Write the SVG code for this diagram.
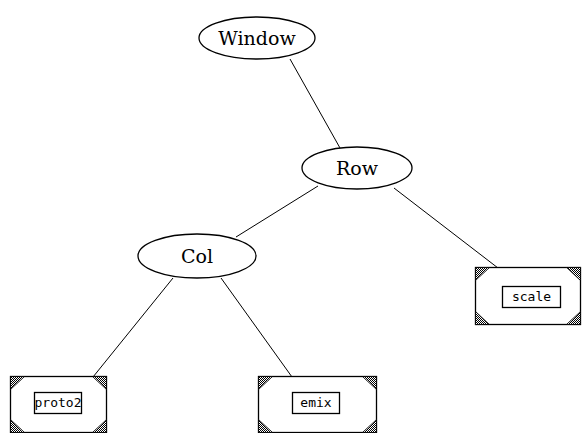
<svg xmlns="http://www.w3.org/2000/svg" width="582" height="433" viewBox="0 0 582 433">
<defs>
<pattern id="dither" width="2" height="2" patternUnits="userSpaceOnUse">
<rect width="2" height="2" fill="#fff"/>
<rect width="1" height="1" fill="#000"/>
<rect x="1" y="1" width="1" height="1" fill="#000"/>
</pattern>
<style>
.ell{fill:#fff;stroke:#000;stroke-width:1.3}
.et{font-family:"DejaVu Serif","Liberation Serif",serif;font-size:19px;text-anchor:middle;fill:#000}
.box{fill:#fff;stroke:#000;stroke-width:1.3}
.cor{fill:url(#dither);stroke:#000;stroke-width:0.8}
.lab{fill:#fff;stroke:#000;stroke-width:1.3}
.bt{font-family:"DejaVu Sans Mono","Liberation Mono",monospace;font-size:13px;text-anchor:middle;fill:#000}
.edge{stroke:#000;stroke-width:1;fill:none}
</style>
</defs>
<rect width="582" height="433" fill="#fff"/>
<g id="connectors">
<line class="edge" x1="290" y1="59" x2="340" y2="148"/>
<line class="edge" x1="318" y1="186" x2="236" y2="237"/>
<line class="edge" x1="394" y1="188" x2="498" y2="268"/>
<line class="edge" x1="173" y1="278" x2="93" y2="377"/>
<line class="edge" x1="221" y1="278" x2="292" y2="377"/>
</g>
<g id="Window">
<ellipse class="ell" cx="257" cy="38" rx="58" ry="21"/>
<text class="et" x="257" y="45">Window</text>
</g>
<g id="Row">
<ellipse class="ell" cx="357" cy="168" rx="55" ry="21"/>
<text class="et" x="357" y="175">Row</text>
</g>
<g id="Col">
<ellipse class="ell" cx="197" cy="256" rx="59" ry="22"/>
<text class="et" x="197" y="263">Col</text>
</g>
<g id="scale">
<rect class="box" x="475.5" y="267.5" width="105" height="57"/>
<path class="cor" d="M475.5 267.5h14l-14 13z"/>
<path class="cor" d="M475.5 324.5h14l-14 -13z"/>
<path class="cor" d="M580.5 267.5h-14l14 13z"/>
<path class="cor" d="M580.5 324.5h-14l14 -13z"/>
<rect class="lab" x="502.5" y="286.5" width="58" height="21"/>
<text class="bt" x="531.5" y="301">scale</text>
</g>
<g id="proto2">
<rect class="box" x="10.5" y="376.5" width="96" height="56"/>
<path class="cor" d="M10.5 376.5h14l-14 13z"/>
<path class="cor" d="M10.5 432.5h14l-14 -13z"/>
<path class="cor" d="M106.5 376.5h-14l14 13z"/>
<path class="cor" d="M106.5 432.5h-14l14 -13z"/>
<rect class="lab" x="34.5" y="392.5" width="47" height="21"/>
<text class="bt" x="58" y="407">proto2</text>
</g>
<g id="emix">
<rect class="box" x="258.5" y="376.5" width="118" height="56"/>
<path class="cor" d="M258.5 376.5h14l-14 13z"/>
<path class="cor" d="M258.5 432.5h14l-14 -13z"/>
<path class="cor" d="M376.5 376.5h-14l14 13z"/>
<path class="cor" d="M376.5 432.5h-14l14 -13z"/>
<rect class="lab" x="292.5" y="392.5" width="47" height="21"/>
<text class="bt" x="316" y="407">emix</text>
</g>
</svg>
